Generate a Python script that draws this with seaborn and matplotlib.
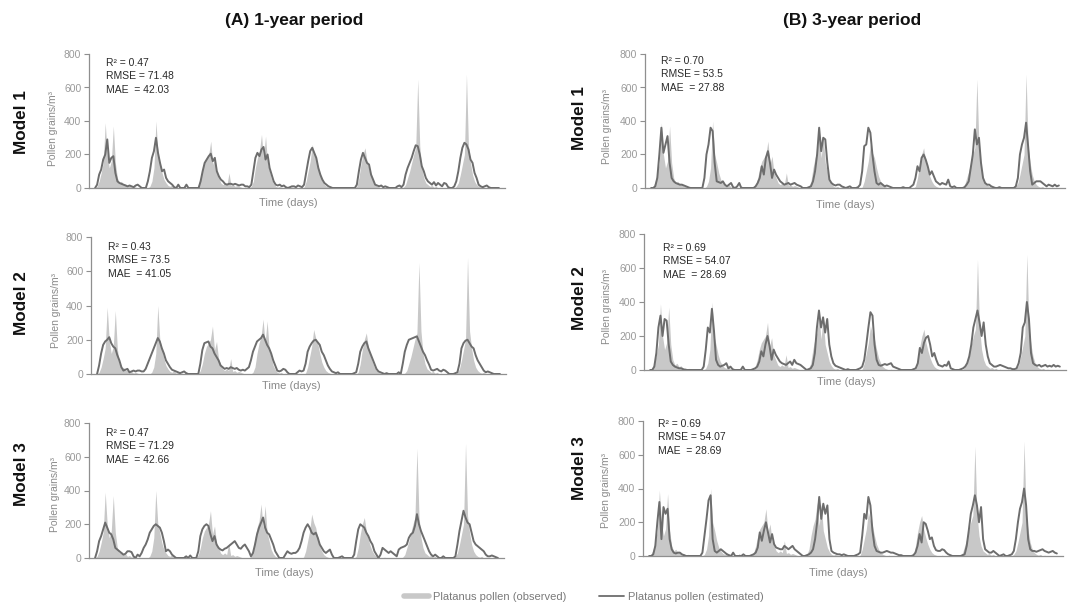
import numpy as np
import pandas as pd
import matplotlib
matplotlib.use("Agg")
import matplotlib.pyplot as plt
import seaborn as sns
from matplotlib.lines import Line2D

sns.set_theme(style="white")
plt.rcParams["font.family"] = ["Liberation Sans", "DejaVu Sans"]

# ---------------------------------------------------------------------------
# Daily Platanus pollen, eight consecutive pollen seasons (25 days per block)
# ---------------------------------------------------------------------------
observed = (
    [0, 10, 40, 90, 150, 390, 200, 120, 160, 370, 150, 60, 30, 40, 20, 25, 10, 15, 5, 10, 5, 0, 5, 0, 0]
    + [0, 0, 10, 40, 120, 400, 200, 150, 90, 50, 30, 15, 10, 20, 5, 10, 0, 5, 0, 15, 0, 0, 0, 0, 0]
    + [0, 20, 60, 120, 160, 180, 200, 280, 140, 190, 90, 60, 30, 20, 30, 20, 90, 15, 20, 10, 15, 10, 5, 0, 0]
    + [0, 0, 10, 40, 120, 180, 220, 320, 180, 310, 150, 100, 50, 25, 10, 5, 10, 0, 5, 0, 0, 0, 5, 0, 0]
    + [0, 0, 0, 5, 40, 100, 160, 260, 210, 180, 120, 70, 40, 20, 10, 5, 0, 5, 0, 0, 0, 0, 0, 0, 0]
    + [0, 0, 0, 0, 10, 60, 140, 200, 240, 160, 110, 70, 40, 20, 10, 5, 0, 0, 5, 0, 0, 0, 0, 0, 0]
    + [0, 0, 5, 20, 60, 100, 150, 200, 240, 650, 250, 120, 60, 30, 20, 10, 15, 5, 10, 0, 5, 0, 0, 0, 0]
    + [0, 0, 0, 10, 30, 80, 140, 200, 680, 250, 150, 80, 40, 20, 10, 5, 10, 0, 5, 0, 0, 0, 0, 0, 0]
)

# Estimated series, models trained on a 1-year period
est_1yr_m1 = (
    [0, 20, 80, 110, 170, 200, 290, 150, 180, 190, 90, 40, 30, 25, 20, 15, 10, 15, 10, 5, 15, 20, 10, 0, 0]
    + [0, 40, 100, 180, 220, 300, 210, 150, 100, 110, 60, 40, 30, 20, 5, 0, 20, 0, 0, 0, 20, 0, 0, 0, 0]
    + [0, 0, 40, 100, 150, 170, 190, 205, 160, 180, 100, 70, 50, 40, 25, 20, 25, 25, 20, 25, 20, 15, 20, 20, 10]
    + [10, 5, 20, 100, 180, 210, 190, 230, 245, 170, 200, 120, 80, 40, 20, 15, 20, 10, 15, 5, 0, 5, 10, 10, 5]
    + [15, 10, 5, 20, 90, 160, 220, 240, 210, 180, 120, 80, 50, 30, 20, 10, 5, 0, 0, 0, 0, 0, 0, 0, 0]
    + [0, 0, 0, 0, 20, 100, 170, 210, 180, 150, 140, 80, 50, 20, 15, 10, 15, 5, 10, 5, 0, 0, 0, 0, 10]
    + [15, 5, 20, 80, 120, 150, 180, 220, 255, 250, 200, 130, 100, 60, 40, 30, 20, 35, 15, 30, 20, 10, 30, 25, 5]
    + [0, 0, 10, 40, 100, 180, 240, 270, 260, 230, 170, 150, 90, 60, 20, 10, 5, 10, 15, 5, 0, 0, 0, 0, 0]
)
est_1yr_m2 = (
    [0, 50, 120, 170, 190, 200, 215, 180, 160, 150, 110, 80, 40, 20, 25, 30, 10, 15, 20, 15, 20, 20, 15, 15, 30]
    + [60, 90, 120, 150, 180, 210, 190, 150, 120, 80, 60, 40, 25, 20, 15, 10, 5, 10, 15, 5, 0, 0, 0, 0, 0]
    + [0, 60, 140, 180, 185, 190, 160, 150, 120, 100, 80, 50, 40, 30, 35, 30, 40, 35, 30, 35, 25, 20, 25, 20, 30]
    + [40, 80, 130, 160, 190, 200, 210, 230, 200, 170, 150, 120, 80, 50, 20, 15, 20, 30, 25, 10, 0, 0, 0, 0, 10]
    + [20, 15, 20, 60, 130, 160, 180, 195, 200, 185, 170, 130, 110, 80, 50, 30, 15, 10, 5, 10, 0, 0, 0, 0, 0]
    + [0, 0, 5, 10, 60, 130, 160, 180, 190, 150, 120, 90, 60, 30, 15, 10, 5, 0, 5, 0, 0, 0, 0, 0, 10]
    + [0, 60, 130, 170, 200, 205, 210, 215, 220, 190, 160, 130, 110, 80, 55, 25, 20, 25, 30, 20, 15, 25, 20, 10, 0]
    + [0, 0, 5, 10, 60, 150, 180, 195, 200, 180, 160, 150, 110, 80, 60, 40, 20, 10, 15, 10, 5, 0, 0, 0, 0]
)
est_1yr_m3 = (
    [0, 40, 100, 130, 170, 210, 180, 150, 140, 110, 60, 50, 40, 30, 20, 25, 40, 40, 35, 10, 0, 20, 10, 30, 60]
    + [80, 110, 150, 170, 190, 200, 190, 180, 150, 100, 40, 50, 40, 20, 10, 0, 0, 0, 0, 0, 10, 0, 15, 0, 0]
    + [0, 40, 130, 170, 190, 200, 190, 140, 100, 130, 80, 60, 50, 45, 55, 60, 70, 80, 90, 100, 80, 60, 55, 70, 80]
    + [60, 40, 10, 30, 80, 140, 180, 210, 240, 180, 150, 140, 110, 80, 40, 20, 0, 0, 0, 20, 40, 30, 25, 30, 30]
    + [40, 60, 100, 150, 180, 200, 180, 150, 140, 150, 120, 80, 60, 40, 30, 40, 50, 20, 0, 0, 0, 5, 10, 0, 0]
    + [0, 0, 0, 20, 100, 170, 200, 190, 180, 150, 130, 100, 80, 40, 20, 0, 20, 60, 50, 40, 30, 40, 30, 20, 10]
    + [50, 60, 65, 70, 80, 120, 140, 150, 190, 260, 200, 160, 130, 100, 70, 40, 20, 10, 20, 10, 0, 0, 10, 0, 0]
    + [0, 0, 0, 10, 80, 160, 220, 280, 240, 210, 200, 150, 100, 80, 70, 60, 50, 40, 20, 10, 10, 15, 10, 5, 0]
)

# Estimated series, models trained on a 3-year period
est_3yr_m1 = (
    [0, 0, 10, 60, 200, 360, 210, 260, 310, 150, 60, 40, 30, 25, 20, 20, 15, 10, 5, 0, 0, 0, 0, 0, 0]
    + [0, 60, 200, 260, 360, 340, 150, 40, 35, 30, 40, 20, 10, 20, 30, 5, 0, 10, 30, 0, 0, 0, 0, 0, 0]
    + [0, 10, 30, 60, 130, 80, 180, 220, 150, 60, 110, 80, 60, 40, 30, 20, 25, 30, 20, 25, 30, 20, 15, 10, 0]
    + [0, 0, 5, 10, 40, 100, 200, 360, 220, 300, 290, 150, 50, 30, 20, 15, 20, 20, 10, 5, 0, 5, 10, 0, 0]
    + [0, 5, 20, 100, 250, 260, 360, 330, 200, 100, 30, 20, 30, 20, 10, 15, 10, 5, 0, 0, 0, 0, 0, 5, 0]
    + [0, 0, 10, 20, 60, 130, 100, 180, 200, 170, 130, 80, 100, 70, 40, 30, 20, 30, 25, 20, 50, 10, 5, 10, 0]
    + [0, 0, 0, 5, 20, 40, 120, 200, 350, 260, 300, 150, 60, 30, 20, 20, 10, 5, 0, 0, 5, 0, 0, 0, 0]
    + [0, 0, 0, 10, 60, 200, 260, 300, 390, 250, 100, 20, 30, 40, 40, 40, 30, 20, 10, 20, 15, 10, 20, 10, 15]
)
est_3yr_m2 = (
    [0, 0, 20, 100, 250, 320, 200, 300, 290, 150, 50, 30, 20, 15, 10, 10, 5, 0, 0, 0, 0, 0, 0, 0, 0]
    + [0, 20, 120, 250, 220, 360, 230, 60, 30, 20, 25, 30, 40, 10, 20, 5, 0, 0, 0, 0, 20, 0, 0, 0, 0]
    + [5, 10, 20, 50, 110, 80, 150, 200, 140, 60, 120, 90, 70, 50, 40, 35, 30, 40, 50, 30, 60, 40, 35, 30, 20]
    + [10, 0, 5, 10, 30, 100, 250, 350, 250, 310, 220, 300, 150, 80, 40, 25, 20, 15, 10, 5, 0, 5, 0, 0, 0]
    + [0, 5, 10, 20, 60, 150, 250, 340, 320, 150, 60, 30, 25, 30, 35, 30, 35, 40, 20, 15, 10, 5, 0, 0, 0]
    + [0, 0, 0, 5, 10, 40, 130, 100, 160, 190, 200, 150, 80, 100, 60, 30, 25, 20, 30, 25, 50, 10, 5, 0, 0]
    + [0, 5, 10, 20, 40, 80, 150, 250, 300, 350, 280, 200, 280, 150, 80, 40, 30, 20, 20, 25, 30, 25, 20, 15, 10]
    + [10, 5, 5, 10, 40, 100, 250, 280, 400, 300, 100, 40, 30, 25, 30, 20, 25, 30, 20, 25, 20, 30, 20, 25, 20]
)
est_3yr_m3 = (
    [0, 0, 10, 60, 200, 320, 100, 290, 250, 280, 100, 40, 20, 15, 20, 20, 10, 5, 0, 0, 0, 0, 0, 0, 0]
    + [0, 20, 120, 220, 330, 360, 100, 30, 20, 30, 40, 30, 20, 10, 5, 0, 20, 0, 0, 0, 0, 10, 0, 0, 0]
    + [5, 10, 20, 50, 140, 90, 150, 200, 140, 80, 130, 70, 50, 45, 40, 40, 60, 50, 40, 50, 60, 40, 30, 20, 10]
    + [0, 0, 5, 10, 20, 40, 100, 200, 350, 220, 310, 250, 300, 100, 30, 20, 15, 10, 10, 5, 10, 5, 0, 0, 0]
    + [0, 5, 10, 20, 120, 250, 220, 350, 300, 150, 60, 30, 25, 20, 20, 25, 30, 25, 20, 20, 15, 10, 5, 5, 0]
    + [0, 0, 0, 0, 5, 20, 60, 130, 80, 200, 190, 150, 100, 110, 60, 35, 30, 30, 40, 35, 20, 10, 5, 0, 0]
    + [0, 0, 0, 5, 10, 60, 150, 250, 300, 360, 300, 200, 290, 100, 40, 30, 20, 20, 30, 20, 10, 0, 5, 10, 0]
    + [0, 5, 10, 30, 100, 200, 280, 320, 400, 300, 100, 40, 30, 30, 25, 30, 35, 40, 30, 25, 20, 25, 30, 20, 15]
)

period_titles = ["(A) 1-year period", "(B) 3-year period"]
model_names = ["Model 1", "Model 2", "Model 3"]
r2_1yr = ["0.47", "0.43", "0.47"]
rmse_1yr = ["71.48", "73.5", "71.29"]
mae_1yr = ["42.03", "41.05", "42.66"]
r2_3yr = ["0.70", "0.69", "0.69"]
rmse_3yr = ["53.5", "54.07", "54.07"]
mae_3yr = ["27.88", "28.69", "28.69"]
y_ticks = [0, 200, 400, 600, 800]
legend_labels = ["Platanus pollen (observed)", "Platanus pollen (estimated)"]

# ---------------------------------------------------------------------------
W, H = 1068, 605
OBS_COLOR = "#c8c8c8"
EST_COLOR = "#6d6d6d"
AXIS_COLOR = "#8f8f8f"
LABEL_GREY = "#8a8a8a"

fig = plt.figure(figsize=(W / 100, H / 100), dpi=100)


def fx(x):
    return x / W


def fy(y):
    return 1 - y / H


# (left, top, right, bottom) of each plotting area in pixels
panel_boxes = [
    [(89, 54, 505, 188), (645, 54, 1065, 188)],
    [(91, 237, 506, 374), (644, 234, 1066, 370)],
    [(89, 423, 504, 558), (643, 421, 1063, 556)],
]
# first-line anchor of the metric block in each panel
metric_anchor = [
    [(106, 63), (661, 61)],
    [(108, 247), (663, 248)],
    [(106, 433), (658, 424)],
]
row_label_pos = [[(22, 122), (579, 118)], [(22, 303), (579, 298)], [(22, 474), (579, 468)]]
ylabel_pos = [[(53, 128), (607, 127)], [(56, 311), (607, 306)], [(55, 494), (606, 491)]]
xlabel_pos = [[(288, 203), (845, 205)], [(291, 386), (846, 382)], [(284, 573), (838, 573)]]

estimates = [[est_1yr_m1, est_3yr_m1], [est_1yr_m2, est_3yr_m2], [est_1yr_m3, est_3yr_m3]]
metrics = [(r2_1yr, rmse_1yr, mae_1yr), (r2_3yr, rmse_3yr, mae_3yr)]

day = np.arange(len(observed))

for r in range(3):
    for c in range(2):
        x0, y0, x1, y1 = panel_boxes[r][c]
        ax = fig.add_axes([fx(x0), fy(y1), fx(x1 - x0), (y1 - y0) / H])
        df = pd.DataFrame({"day": day, "observed": observed, "estimated": estimates[r][c]})

        ax.fill_between(df["day"], 0, df["observed"], color=OBS_COLOR, lw=0, zorder=1)
        sns.lineplot(data=df, x="day", y="estimated", ax=ax, color=EST_COLOR,
                     lw=1.4, zorder=3, legend=False)

        ax.set_xlim(-3, len(day) + 2)
        ax.set_ylim(0, 800)
        ax.set_yticks(y_ticks)
        ax.set_xticks([])
        ax.set_xlabel("")
        ax.set_ylabel("")
        ax.tick_params(axis="y", direction="out", length=3.5, width=0.8, pad=2,
                       colors=AXIS_COLOR, labelsize=7.5, left=True)
        for lab in ax.get_yticklabels():
            lab.set_color("#9a9a9a")
        for s in ["top", "right"]:
            ax.spines[s].set_visible(False)
        for s in ["left", "bottom"]:
            ax.spines[s].set_color(AXIS_COLOR)
            ax.spines[s].set_linewidth(0.9)
        ax.patch.set_alpha(0)

        r2v, rmsev, maev = metrics[c]
        tx, ty = metric_anchor[r][c]
        lines = [f"R² = {r2v[r]}", f"RMSE = {rmsev[r]}", f"MAE  = {maev[r]}"]
        for k, t in enumerate(lines):
            fig.text(fx(tx), fy(ty + k * 13.3), t, fontsize=7.5, color="#2a2a2a",
                     ha="left", va="center")

        lx, ly = row_label_pos[r][c]
        fig.text(fx(lx), fy(ly), model_names[r], rotation=90, fontsize=12.3,
                 fontweight="bold", color="#111111", ha="center", va="center")
        yx, yy = ylabel_pos[r][c]
        fig.text(fx(yx), fy(yy), "Pollen grains/m³", rotation=90, fontsize=7.5,
                 color=LABEL_GREY, ha="center", va="center")
        xx, xy = xlabel_pos[r][c]
        fig.text(fx(xx), fy(xy), "Time (days)", fontsize=8, color=LABEL_GREY,
                 ha="center", va="center")

for c, (cx, cy) in enumerate([(294, 20), (852, 20)]):
    fig.text(fx(cx), fy(cy), period_titles[c], fontsize=12.5,
             fontweight="bold", color="#111111", ha="center", va="center",
             family=["Liberation Sans Narrow", "Liberation Sans", "DejaVu Sans"])

handles = [Line2D([0], [0], color=OBS_COLOR, lw=4),
           Line2D([0], [0], color=EST_COLOR, lw=1.3)]
leg = fig.legend(handles, legend_labels, loc="center", bbox_to_anchor=(fx(584), fy(597)),
                 ncol=2, frameon=False, fontsize=8, handlelength=2.25,
                 handletextpad=0.3, columnspacing=3.0, borderaxespad=0)
for t in leg.get_texts():
    t.set_color("#7a7a7a")

fig.savefig("out.png", dpi=100)
